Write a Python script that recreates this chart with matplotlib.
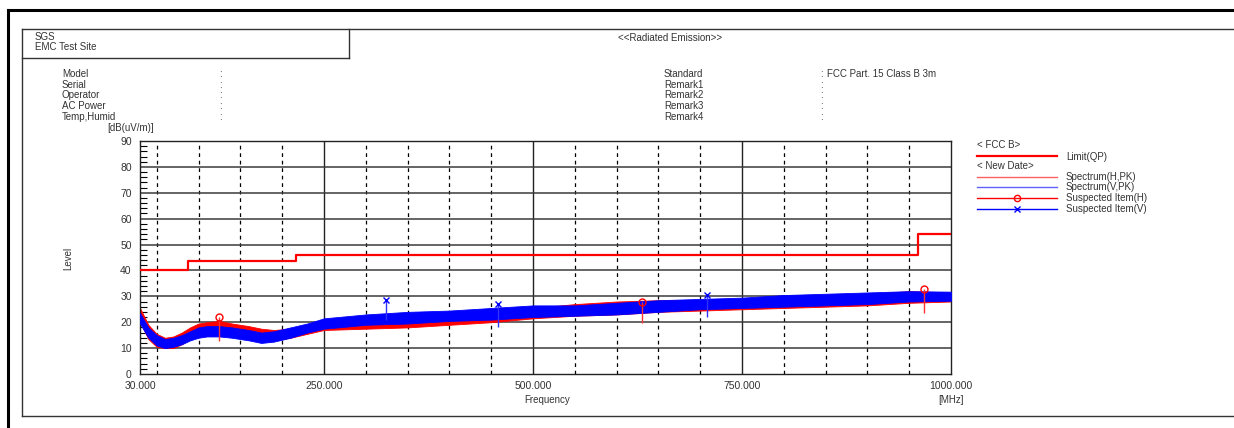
import matplotlib
matplotlib.use("Agg")
import matplotlib.pyplot as plt
from matplotlib.lines import Line2D
from matplotlib import font_manager

names = {f.name for f in font_manager.fontManager.ttflist}
fam = [n for n in ['Liberation Sans Narrow', 'DejaVu Sans Condensed', 'Liberation Sans'] if n in names]
plt.rcParams['font.family'] = fam + ['DejaVu Sans']

W, H = 1234, 428

# --- data ---
limit_f = [30, 88, 216, 960, 1000]
limit_db = [40, 43.5, 46, 54, 54]

band_f = [30, 40, 50, 60, 70, 80, 90, 100, 110, 125, 140, 160, 175, 190, 210, 230,
          250, 300, 350, 400, 450, 500, 550, 600, 650, 700, 750, 800, 850, 900, 950, 1000]
h_lo = [20, 13.5, 10.5, 10, 10, 11.5, 13.5, 15, 15.5, 15.5, 15, 14, 13, 13, 14, 15.5,
        17, 17.5, 18, 19, 20, 21.5, 22.5, 23, 24, 24.5, 25, 25.5, 26, 26.5, 27.5, 28]
h_hi = [25.5, 19, 15.5, 14, 14.5, 16, 18, 19.5, 20, 20.5, 19.5, 18.5, 17.5, 17, 17.5, 18.5,
        20.5, 21.5, 22.5, 23, 24, 25.5, 27, 28, 28.5, 28.5, 29, 29.5, 30.5, 31, 32, 31.5]
v_lo = [19.5, 14, 11, 10, 10.5, 11.5, 13, 14, 14.5, 14.5, 14, 13, 12, 12.5, 14, 16,
        17.5, 19, 19.5, 20.5, 21, 22, 22.5, 23, 24, 25, 25.5, 26, 26.5, 27, 28, 28.3]
v_hi = [23.5, 18, 15, 13.5, 14, 15, 16.5, 18, 18.5, 18.5, 18, 17, 16, 16.5, 18, 19.5,
        21.5, 23, 24, 24.5, 25.5, 26.5, 26.5, 27.5, 28.5, 29, 29.5, 30.5, 31, 31.5, 32, 31.8]

susp_h_f = [125, 630, 968]
susp_h_db = [22, 27.9, 32.8]
susp_h_low = [12.9, 19.7, 23.7]
susp_v_f = [324, 458, 708]
susp_v_db = [28.6, 27, 30.5]
susp_v_low = [21, 18.1, 22.1]

x_ticks = [30, 250, 500, 750, 1000]
x_ticklabels = ['30.000', '250.000', '500.000', '750.000', '1000.000']

info_left = ['Model', 'Serial', 'Operator', 'AC Power', 'Temp,Humid']
info_right = ['Standard', 'Remark1', 'Remark2', 'Remark3', 'Remark4']
info_right_val = ['FCC Part. 15 Class B 3m', '', '', '', '']

TXT = '#333333'
FS = 7


def fx(px):
    return px / W


def fy(py):
    return 1 - py / H


def hline(y, x0, x1, **kw):
    fig.add_artist(Line2D([fx(x0), fx(x1)], [fy(y), fy(y)], **kw))


def vline(x, y0, y1, **kw):
    fig.add_artist(Line2D([fx(x), fx(x)], [fy(y0), fy(y1)], **kw))


def label(x, y, s, **kw):
    kw.setdefault('fontsize', FS)
    kw.setdefault('color', TXT)
    kw.setdefault('va', 'center')
    fig.text(fx(x), fy(y), s, **kw)


fig = plt.figure(figsize=(W / 100, H / 100), dpi=100)

# outer frames
hline(10, 8, 1240, color='black', lw=2.2)
vline(8, 10, 430, color='black', lw=2.2)
hline(29, 22, 1240, color='#333333', lw=1)
hline(416, 22, 1240, color='#333333', lw=1)
vline(22, 29, 416, color='#333333', lw=1)
hline(58, 22, 349, color='#333333', lw=1)
vline(349, 29, 58, color='#333333', lw=1)

# header texts
label(35, 37, 'SGS')
label(35, 47.5, 'EMC Test Site')
label(618, 38, '<<Radiated Emission>>')
for i, s in enumerate(info_left):
    y = 74 + i * 10.7
    label(62, y, s)
    label(219, y, ':')
for i, s in enumerate(info_right):
    y = 74 + i * 10.7
    label(664, y, s)
    label(820, y, ':')
    if info_right_val[i]:
        label(827, y, info_right_val[i])

# main plot
ax = fig.add_axes([fx(140), fy(374), (951 - 140) / W, (374 - 141) / H])
ax.set_xlim(30, 1000)
ax.set_ylim(0, 90)

for v in range(50, 1000, 50):
    if v % 250 == 0:
        ax.axvline(v, color='#222222', lw=1.0, zorder=1)
    else:
        ax.axvline(v, color='black', lw=0.9, ls=(0, (3, 3)), zorder=1)
for v in range(10, 90, 10):
    ax.axhline(v, color='#3a3a3a', lw=1.1, zorder=1)

ax.fill_between(band_f, h_lo, h_hi, color='#ff0000', lw=0.6, edgecolor='#ff0000', zorder=2)
ax.fill_between(band_f, v_lo, v_hi, color='#0000ff', lw=0.6, edgecolor='#0000ff', zorder=3)

ax.vlines(susp_h_f, susp_h_low, susp_h_db, color='#ff3030', lw=1, zorder=4)
ax.vlines(susp_v_f, susp_v_low, susp_v_db, color='#3030ff', lw=1, zorder=4)
ax.plot(susp_h_f, susp_h_db, ls='none', marker='o', ms=5, mfc='none', mec='#ff0000', mew=1, zorder=5)
ax.plot(susp_v_f, susp_v_db, ls='none', marker='x', ms=5, mec='#0000ff', mew=1, zorder=5)

ax.step(limit_f, limit_db, where='post', color='#ff0000', lw=1.6, zorder=6)

ax.set_xticks(x_ticks)
ax.set_xticklabels(x_ticklabels)
ax.set_yticks(range(0, 100, 10))
ax.set_yticks(range(0, 91, 2), minor=True)
ax.tick_params(axis='x', length=0, pad=5, labelsize=FS + 0.5, labelcolor=TXT)
ax.tick_params(axis='y', which='major', direction='in', length=0, pad=6, labelsize=FS + 0.5, labelcolor=TXT)
ax.tick_params(axis='y', which='minor', direction='in', length=5, width=0.8, color='black')
for sp in ax.spines.values():
    sp.set_color('#222222')
    sp.set_linewidth(1)

label(131, 128, '[dB(uV/m)]', ha='center')
label(68, 258, 'Level', rotation=90, ha='center')
label(547, 400, 'Frequency', ha='center')
label(951, 400, '[MHz]', ha='center')

# legend
label(977, 145, '< FCC B>')
hline(156, 977, 1057, color='#ff0000', lw=1.6)
label(1066, 157, 'Limit(QP)')
label(977, 166, '< New Date>')
hline(177, 977, 1057, color='#ff6060', lw=1)
label(1066, 177, 'Spectrum(H,PK)')
hline(187, 977, 1057, color='#6060ff', lw=1)
label(1066, 187.5, 'Spectrum(V,PK)')
hline(198, 977, 1057, color='#ff0000', lw=1)
fig.add_artist(Line2D([fx(1017)], [fy(198)], ls='none', marker='o', ms=4.5, mfc='none', mec='#ff0000', mew=1))
label(1066, 198, 'Suspected Item(H)')
hline(208.5, 977, 1057, color='#0000ff', lw=1)
fig.add_artist(Line2D([fx(1017)], [fy(208.5)], ls='none', marker='x', ms=4.5, mec='#0000ff', mew=1))
label(1066, 208.5, 'Suspected Item(V)')

fig.savefig('out.png', dpi=100)
